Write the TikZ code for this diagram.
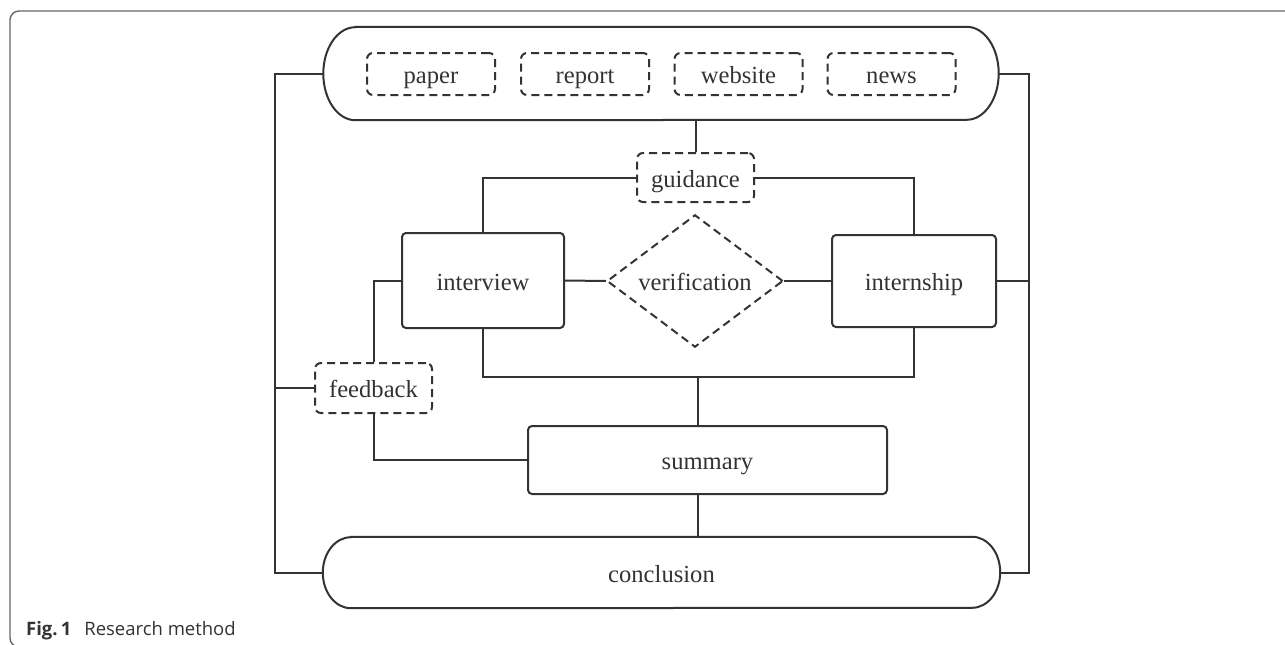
\documentclass[tikz,border=0pt]{standalone}
\usepackage{fontspec}
\setmainfont{Liberation Serif}
\newfontfamily\capfont{Open Sans}
\usetikzlibrary{shapes.geometric,calc}

\definecolor{ink}{HTML}{333333}
\definecolor{framegray}{HTML}{666666}

\tikzset{
  lbl/.style={font=\fontsize{24.6}{28}\selectfont, text=ink, text height=19pt, text depth=0pt},
  solidbox/.style={lbl, draw=ink, line width=2pt, rounded corners=4pt, inner sep=0pt},
  dashbox/.style={lbl, draw=ink, line width=2pt, dash pattern=on 8pt off 5pt, rounded corners=6pt, inner sep=0pt},
  capsule/.style={lbl, inner sep=0pt},
  link/.style={draw=ink, line width=2pt},
}

\begin{document}
\begin{tikzpicture}[x=1pt,y=-1pt]
\useasboundingbox (0,0) rectangle (1285,645);
\clip (0,0) rectangle (1285,645);

% page frame (open to the right and below)
\draw[framegray, line width=1.4pt, rounded corners=9pt]
  (1300,11) -- (10,11) -- (10,647) -- (1300,647);

% bus coordinates
\coordinate (lbus) at (275,0);
\coordinate (rbus) at (1029,0);
\coordinate (bbus) at (698,377);

% sources capsule
\node[capsule, minimum width=675pt, minimum height=93pt] (src) at (661,73.5) {};
\draw[link] ([xshift=32pt]src.north west) -- ([xshift=-32pt]src.north east)
  arc[start angle=90, end angle=-90, x radius=32pt, y radius=46.5pt]
  -- ([xshift=32pt]src.south west)
  arc[start angle=270, end angle=90, x radius=32pt, y radius=46.5pt] -- cycle;

\node[dashbox, minimum width=128pt, minimum height=42pt] (paper)   at (431,74)   {paper};
\node[dashbox, minimum width=128pt, minimum height=42pt] (report)  at (585,74)   {report};
\node[dashbox, minimum width=128pt, minimum height=42pt] (website) at (738.5,74) {website};
\node[dashbox, minimum width=128pt, minimum height=42pt] (news)    at (891.5,74) {news};

% middle layer
\node[dashbox, minimum width=117pt, minimum height=49pt] (guide) at (695.5,177.5) {guidance};
\node[solidbox, minimum width=162pt, minimum height=95pt] (intv) at (483,280.5) {interview};
\node[lbl, diamond, draw=ink, line width=2pt, dash pattern=on 8pt off 5pt,
      minimum width=176pt, minimum height=92pt, inner sep=0pt] (verif) at (695,281) {verification};
\node[solidbox, minimum width=164pt, minimum height=92pt] (intern) at (914,281) {internship};
\node[dashbox, minimum width=117pt, minimum height=50pt] (fb) at (373.5,388) {feedback};
\node[solidbox, minimum width=359pt, minimum height=68pt] (summ) at (707.5,460) {summary};

% conclusion capsule
\node[capsule, minimum width=677pt, minimum height=71pt] (concl) at (661.5,572.5) {conclusion};
\draw[link] ([xshift=28pt]concl.north west) -- ([xshift=-28pt]concl.north east)
  arc[start angle=90, end angle=-90, x radius=28pt, y radius=35.5pt]
  -- ([xshift=28pt]concl.south west)
  arc[start angle=270, end angle=90, x radius=28pt, y radius=35.5pt] -- cycle;

% connectors
\draw[link] (src.west) -- (src.west -| lbus) |- (concl.west);
\draw[link] (src.east) -- (src.east -| rbus) |- (concl.east);
\draw[link] (intern.east) -- (intern.east -| rbus);
\draw[link] (fb.west) -- (fb.west -| lbus);
\draw[link] (guide.north) -- (guide.north |- src.south);
\draw[link] (guide.west) -| (intv.north);
\draw[link] (guide.east) -| (intern.north);
\draw[link] (intv.east) -- (verif.west);
\draw[link] (verif.east) -- (intern.west);
\draw[link] (intv.west) -| (fb.north);
\draw[link] (intv.south) |- (bbus) -| (intern.south);
\draw[link] (bbus) -- (bbus |- summ.north);
\draw[link] (fb.south) |- (summ.west);
\draw[link] (bbus |- summ.south) -- (bbus |- concl.north);

% caption
\node[anchor=base west, inner sep=0pt, text=ink, font=\capfont\fontsize{18.5}{22}\selectfont]
  (cap) at (26,635) {\textbf{Fig.\,1}\hspace{0.7em}Research method};
\end{tikzpicture}
\end{document}
